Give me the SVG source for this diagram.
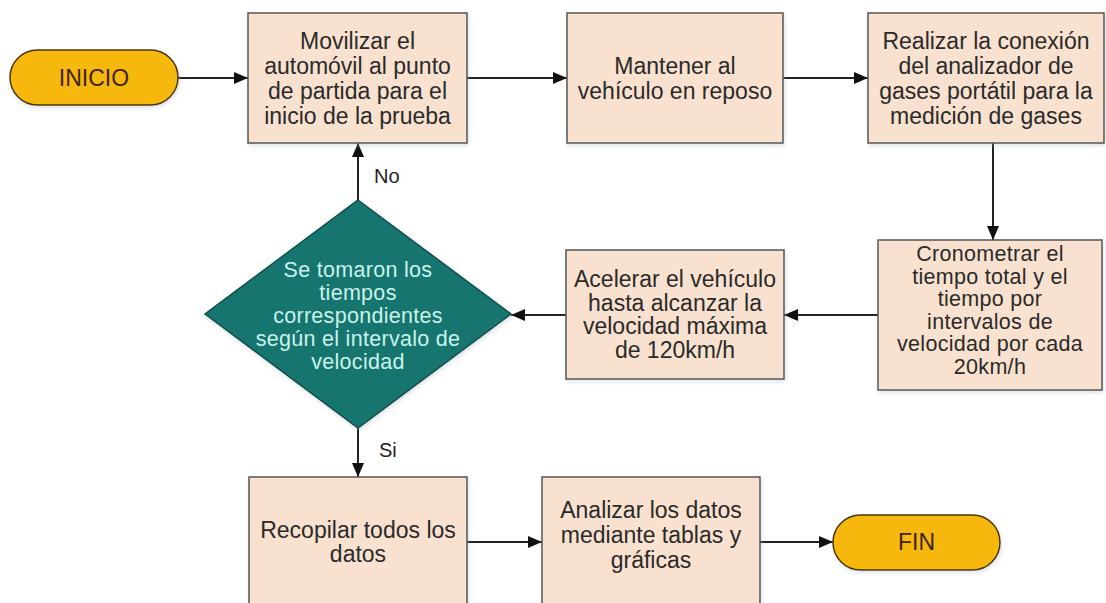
<svg xmlns="http://www.w3.org/2000/svg" width="1106" height="603" viewBox="0 0 1106 603">
<defs>
<marker id="ah" viewBox="0 0 14 12" refX="14" refY="6" markerWidth="14" markerHeight="12" markerUnits="userSpaceOnUse" orient="auto">
<path d="M0,0 L14,6 L0,12 Z" fill="#111"/>
</marker>
<filter id="sh" x="-5%" y="-5%" width="115%" height="115%">
<feDropShadow dx="1" dy="2" stdDeviation="2" flood-color="#9ab" flood-opacity="0.35"/>
</filter>
</defs>
<style>
.box{fill:#f9e1cf;stroke:#555;stroke-width:1.5;filter:url(#sh)}
.pill{fill:#f6b80a;stroke:#4a3500;stroke-width:1.5;filter:url(#sh)}
.dia{fill:#17756e;stroke:#0f4f4a;stroke-width:1.5;filter:url(#sh)}
.t{font-family:"Liberation Sans",Arial,sans-serif;font-size:23px;fill:#2a2a2a;text-anchor:middle}
.s{font-size:21.5px;letter-spacing:0.3px}
.tp{font-family:"Liberation Sans",Arial,sans-serif;font-size:23px;fill:#3f2400;text-anchor:middle}
.td{font-family:"Liberation Sans",Arial,sans-serif;font-size:21.5px;letter-spacing:0.3px;fill:#c9f3ea;text-anchor:middle}
.lbl{font-family:"Liberation Sans",Arial,sans-serif;font-size:20px;fill:#222}
.c{stroke:#222;stroke-width:2;fill:none;marker-end:url(#ah)}
</style>
<rect width="1106" height="603" fill="#fff"/>
<g id="connectors">
<line class="c" x1="178" y1="78" x2="248" y2="78"/>
<line class="c" x1="467" y1="78" x2="567" y2="78"/>
<line class="c" x1="783" y1="78" x2="868" y2="78"/>
<line class="c" x1="993" y1="143" x2="993" y2="240"/>
<line class="c" x1="878" y1="315" x2="784" y2="315"/>
<line class="c" x1="566" y1="315" x2="511" y2="315"/>
<line class="c" x1="358" y1="200" x2="358" y2="143"/>
<line class="c" x1="358" y1="428" x2="358" y2="477"/>
<line class="c" x1="467" y1="542" x2="542" y2="542"/>
<line class="c" x1="760" y1="542" x2="833" y2="542"/>
<text class="lbl" x="374" y="183">No</text>
<text class="lbl" x="379" y="457">Si</text>
</g>
<g id="inicio">
<rect class="pill" x="10" y="50" width="168" height="55" rx="27.5"/>
<text class="tp" x="94" y="86">INICIO</text>
</g>
<g id="movilizar">
<rect class="box" x="248" y="13" width="219" height="130"/>
<text class="t" x="357.5" y="48.5">Movilizar el</text>
<text class="t" x="357.5" y="73.5">automóvil al punto</text>
<text class="t" x="357.5" y="98.5">de partida para el</text>
<text class="t" x="357.5" y="123.5">inicio de la prueba</text>
</g>
<g id="mantener">
<rect class="box" x="567" y="13" width="216" height="130"/>
<text class="t" x="675" y="73.5">Mantener al</text>
<text class="t" x="675" y="98.5">vehículo en reposo</text>
</g>
<g id="conexion">
<rect class="box" x="868" y="13" width="236" height="130"/>
<text class="t" x="986" y="48.5">Realizar la conexión</text>
<text class="t" x="986" y="73.5">del analizador de</text>
<text class="t" x="986" y="98.5">gases portátil para la</text>
<text class="t" x="986" y="123.5">medición de gases</text>
</g>
<g id="cronometrar">
<rect class="box" x="878" y="240" width="224" height="150"/>
<text class="t s" x="990" y="261">Cronometrar el</text>
<text class="t s" x="990" y="283.5">tiempo total y el</text>
<text class="t s" x="990" y="306">tiempo por</text>
<text class="t s" x="990" y="328.5">intervalos de</text>
<text class="t s" x="990" y="351">velocidad por cada</text>
<text class="t s" x="990" y="373.5">20km/h</text>
</g>
<g id="acelerar">
<rect class="box" x="566" y="250" width="218" height="129"/>
<text class="t" x="675" y="287">Acelerar el vehículo</text>
<text class="t" x="675" y="310.5">hasta alcanzar la</text>
<text class="t" x="675" y="334">velocidad máxima</text>
<text class="t" x="675" y="357.5">de 120km/h</text>
</g>
<g id="decision">
<polygon class="dia" points="358,200 511,314 358,428 205,314"/>
<text class="td" x="358" y="277">Se tomaron los</text>
<text class="td" x="358" y="300">tiempos</text>
<text class="td" x="358" y="323">correspondientes</text>
<text class="td" x="358" y="346">según el intervalo de</text>
<text class="td" x="358" y="369">velocidad</text>
</g>
<g id="recopilar">
<rect class="box" x="249" y="477" width="218" height="140"/>
<text class="t" x="358" y="538">Recopilar todos los</text>
<text class="t" x="358" y="562">datos</text>
</g>
<g id="analizar">
<rect class="box" x="542" y="477" width="218" height="140"/>
<text class="t" x="651" y="518">Analizar los datos</text>
<text class="t" x="651" y="543">mediante tablas y</text>
<text class="t" x="651" y="568">gráficas</text>
</g>
<g id="fin">
<rect class="pill" x="833" y="515" width="167" height="55" rx="27.5"/>
<text class="tp" x="916.5" y="550">FIN</text>
</g>
</svg>
